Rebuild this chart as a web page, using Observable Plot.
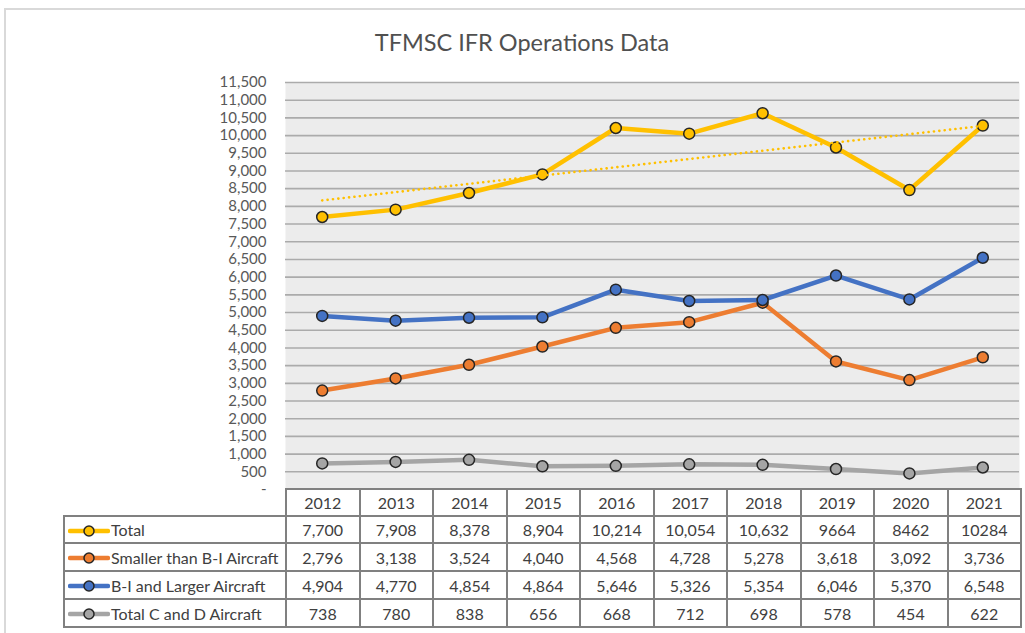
<!DOCTYPE html>
<html><head><meta charset="utf-8">
<script src="https://cdn.jsdelivr.net/npm/d3@7"></script>
<script src="https://cdn.jsdelivr.net/npm/@observablehq/plot@0.6"></script>
<style>
body{margin:0;background:#fff;width:1025px;height:633px;overflow:hidden;font-family:Lato,sans-serif;position:relative;}
#frame{position:absolute;left:4px;top:8px;width:1040px;height:640px;border-top:2px solid #d9d9d9;border-left:2px solid #d9d9d9;}
#title{position:absolute;left:0;width:1044px;top:28px;text-align:center;font-size:23.5px;color:#505050;}
#chart{position:absolute;left:0;top:0;}
#tbl{position:absolute;left:63px;top:488px;border-collapse:collapse;table-layout:fixed;width:957px;font-size:16px;color:#404040;}
#tbl td{border:2px solid #808080;padding:0;text-align:center;white-space:nowrap;overflow:hidden;}
#tbl td.blank{border-top:none;border-left:none;}
#tbl td.lab{text-align:left;padding-left:3px;}
#tbl td.lab svg{vertical-align:middle;margin-right:1px;position:relative;top:-1px;}
</style>
</head><body>
<div id="frame"></div>
<div id="title">TFMSC IFR Operations Data</div>
<div id="chart"></div>
<table id="tbl"></table>
<script>
const years = [2012, 2013, 2014, 2015, 2016, 2017, 2018, 2019, 2020, 2021];
const total = [7700, 7908, 8378, 8904, 10214, 10054, 10632, 9664, 8462, 10284];
const smaller = [2796, 3138, 3524, 4040, 4568, 4728, 5278, 3618, 3092, 3736];
const larger = [4904, 4770, 4854, 4864, 5646, 5326, 5354, 6046, 5370, 6548];
const cAndD = [738, 780, 838, 656, 668, 712, 698, 578, 454, 622];
const seriesNames = ["Total", "Smaller than B-I Aircraft", "B-I and Larger Aircraft", "Total C and D Aircraft"];
const seriesColors = ["#FFC000", "#ED7D31", "#4472C4", "#A5A5A5"];
const yTicks = d3.range(0, 11501, 500);
// table labels as printed in the source (Total row mixes formats)
const totalLabels = ["7,700", "7,908", "8,378", "8,904", "10,214", "10,054", "10,632", "9664", "8462", "10284"];

const seriesValues = [total, smaller, larger, cAndD];
const fmt = d3.format(",");

const marks = [
  Plot.frame({fill: "#ececec", stroke: "none"}),
  Plot.ruleY(yTicks.filter(d => d > 0), {stroke: "#ababab", strokeWidth: 1.6}),
  Plot.axisY({ticks: yTicks, tickSize: 0, tickPadding: 19, fontSize: 15, fill: "#595959", label: null,
    tickFormat: d => d === 0 ? "-" : fmt(d)})
];
seriesValues.forEach((vals, i) => {
  const data = years.map((y, j) => ({year: y, value: vals[j]}));
  marks.push(Plot.line(data, {x: "year", y: "value", stroke: seriesColors[i], strokeWidth: 4.5, strokeLinejoin: "round", strokeLinecap: "round"}));
  marks.push(Plot.dot(data, {x: "year", y: "value", r: 5.5, fill: seriesColors[i], stroke: "#262626", strokeWidth: 1.5}));
  if (i === 0) {
    marks.push(Plot.linearRegressionY(data, {x: "year", y: "value", ci: 0, stroke: seriesColors[i], strokeWidth: 2.6, strokeDasharray: "0.1,5.3", strokeLinecap: "round"}));
  }
});

const chart = Plot.plot({
  width: 1025, height: 633,
  marginLeft: 285, marginRight: 6, marginTop: 82, marginBottom: 144,
  x: {domain: [2011.5, 2021.5], axis: null},
  y: {domain: [0, 11500], axis: null},
  style: {background: "transparent", fontFamily: "Lato, sans-serif"},
  marks
});
document.getElementById("chart").appendChild(chart);

// data table under the chart
const tbl = document.getElementById("tbl");
const cg = document.createElement("colgroup");
cg.innerHTML = `<col style="width:222px">` + years.map(() => `<col style="width:73.5px">`).join("");
tbl.appendChild(cg);
const head = document.createElement("tr");
head.style.height = "27px";
head.innerHTML = `<td class="blank"></td>` + years.map(y => `<td>${y}</td>`).join("");
tbl.appendChild(head);
seriesValues.forEach((vals, i) => {
  const tr = document.createElement("tr");
  tr.style.height = i < 1 ? "27px" : "28px";
  const glyph = `<svg width="42" height="14"><line x1="2" x2="40" y1="7" y2="7" stroke="${seriesColors[i]}" stroke-width="4.5" stroke-linecap="round"/><circle cx="21" cy="7" r="5" fill="${seriesColors[i]}" stroke="#262626" stroke-width="1.5"/></svg>`;
  const labels = i === 0 ? totalLabels : vals.map(fmt);
  tr.innerHTML = `<td class="lab">${glyph}${seriesNames[i]}</td>` + labels.map(l => `<td>${l}</td>`).join("");
  tbl.appendChild(tr);
});
</script>
</body></html>
